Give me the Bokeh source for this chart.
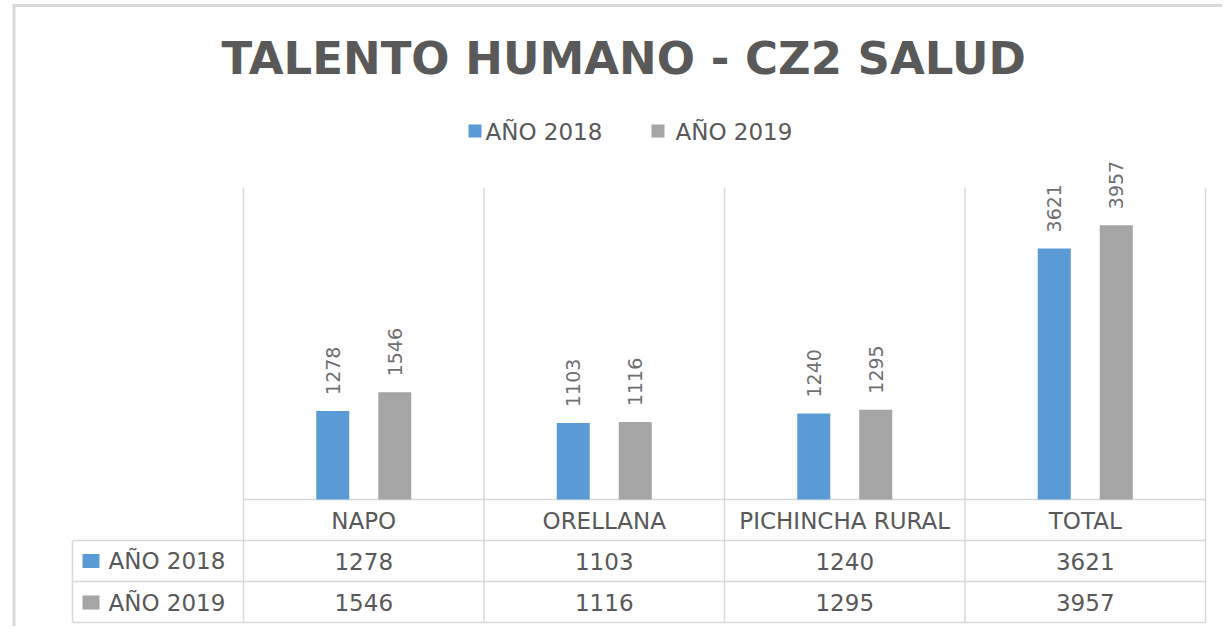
import math
from bokeh.plotting import figure
from bokeh.models import Range1d, ColumnDataSource
from bokeh.core.properties import value
from bokeh.embed import file_html
from bokeh.resources import INLINE

# ---- data ----
title_text = "TALENTO  HUMANO - CZ2 SALUD"
categories = ["NAPO", "ORELLANA", "PICHINCHA RURAL", "TOTAL"]
series_names = ["AÑO 2018", "AÑO 2019"]
values_2018 = [1278, 1103, 1240, 3621]
values_2019 = [1546, 1116, 1295, 3957]
series_colors = ["#5b9bd5", "#a5a5a5"]
y_max = 4500

# ---- layout (picture pixels) ----
W, H = 1222, 626
CAT_PX = 240.5
LEFT_PX = 243.0
BASE_PX = 499.0
TOP_PX = 187.0
K = (BASE_PX - TOP_PX) / y_max


def X(px):
    return (px - LEFT_PX) / CAT_PX


def Y(py):
    return (BASE_PX - py) / K


TXT = "#595959"
GRID = "#d9d9d9"
FONT = value("DejaVu Sans")

p = figure(width=W, height=H, output_backend="svg", toolbar_location=None,
           x_range=Range1d(X(0), X(W)), y_range=Range1d(Y(H), Y(0)),
           min_border=0, min_border_left=0, min_border_right=0,
           min_border_top=0, min_border_bottom=0)
p.axis.visible = False
p.grid.visible = False
p.outline_line_color = None
p.background_fill_color = "white"
p.border_fill_color = "white"

n = len(categories)
xs = [i + 0.5 for i in range(n)]

# chart border
p.segment(x0=[X(12), X(13.5)], y0=[Y(5), Y(4)], x1=[X(W), X(13.5)], y1=[Y(5), Y(H)],
          line_color=GRID, line_width=3)

# vertical category separators
p.segment(x0=list(range(n + 1)), y0=[y_max] * (n + 1), x1=list(range(n + 1)),
          y1=[Y(622)] * (n + 1), line_color=GRID, line_width=1.5)
# baseline and table lines
p.segment(x0=[0, X(72), X(72), X(72)], y0=[0, Y(540), Y(581), Y(622)],
          x1=[n, n, n, n], y1=[0, Y(540), Y(581), Y(622)], line_color=GRID, line_width=1.5)
p.segment(x0=[X(72)], y0=[Y(540)], x1=[X(72)], y1=[Y(622)], line_color=GRID, line_width=1.5)

# bars + rotated labels
offs = 31 / CAT_PX
bw = 33 / CAT_PX
for vals, off, col in [(values_2018, -offs, series_colors[0]),
                       (values_2019, offs, series_colors[1])]:
    src = ColumnDataSource(dict(x=[x + off for x in xs], top=vals,
                                label=[str(v) for v in vals]))
    p.vbar(x="x", top="top", bottom=0, width=bw, source=src,
           fill_color=col, line_color=None)
    p.text(x="x", y="top", text="label", source=src, angle=math.pi / 2,
           text_align="left", text_baseline="middle", y_offset=-16,
           text_font=FONT, text_font_size="19px", text_color="#707070")

# title
p.text(x=[X(631)], y=[Y(58)], text=[title_text], text_align="center",
       text_baseline="middle", text_font=FONT, text_font_size="45px",
       text_font_style="bold", text_color=TXT)

# legend
p.rect(x=[X(474.5), X(657.5)], y=[Y(130.5), Y(130.5)], width=13, height=13,
       width_units="screen", height_units="screen", fill_color=series_colors, line_color=None)
p.text(x=[X(485), X(675)], y=[Y(131), Y(131)], text=series_names, text_align="left",
       text_baseline="middle", text_font=FONT, text_font_size="23px", text_color=TXT)

# data table
p.text(x=xs, y=[Y(520)] * n, text=categories, text_align="center",
       text_baseline="middle", text_font=FONT, text_font_size="23px", text_color=TXT)
row_mid = [560.5, 602]
p.rect(x=[X(90.5)] * 2, y=[Y(m) for m in row_mid], width=17, height=14,
       width_units="screen", height_units="screen", fill_color=series_colors, line_color=None)
p.text(x=[X(108)] * 2, y=[Y(m) for m in row_mid], text=series_names, text_align="left",
       text_baseline="middle", text_font=FONT, text_font_size="23px", text_color=TXT)
for vals, m in [(values_2018, row_mid[0]), (values_2019, row_mid[1])]:
    p.text(x=xs, y=[Y(m)] * n, text=[str(v) for v in vals], text_align="center",
           text_baseline="middle", text_font=FONT, text_font_size="23px", text_color=TXT)

open("out.html", "w").write(file_html(p, INLINE))
